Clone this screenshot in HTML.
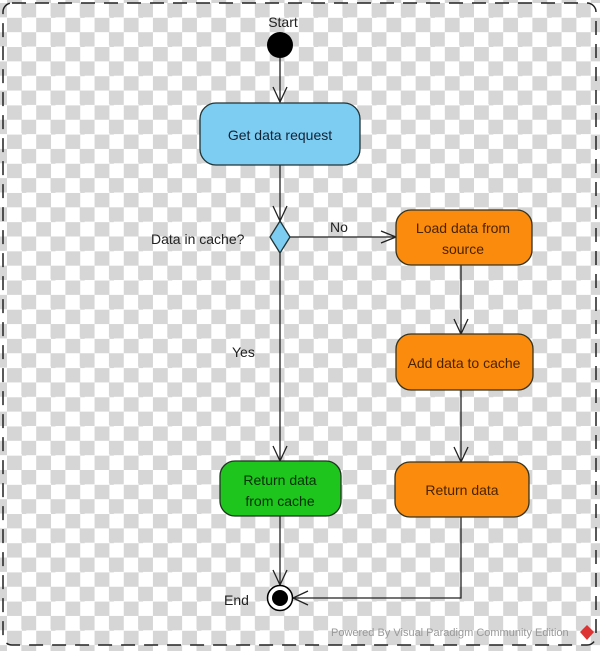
<!DOCTYPE html>
<html><head><style>
body{margin:0;width:600px;height:651px;overflow:hidden;background:#fff;}
.bg{position:absolute;left:0;top:0;width:600px;height:651px;
background:repeating-conic-gradient(#d6d6d6 0 25%,#ffffff 0 50%) 7px 3px/29.2px 29.2px;}
svg{position:absolute;left:0;top:0;}
text{font-family:"Liberation Sans",Arial,sans-serif;font-size:14px;}
</style></head><body>
<div class="bg"></div>
<svg width="600" height="651">
<rect x="3" y="3" width="593" height="642" rx="9" fill="none" stroke="#222" stroke-width="1.5" stroke-dasharray="14,9"/>
<g stroke="#222" stroke-width="1.3" fill="none">
<line x1="280" y1="58" x2="280" y2="102"/><polyline points="273,87 280,102 287,87"/>
<line x1="280" y1="165" x2="280" y2="221"/><polyline points="273,206 280,221 287,206"/>
<line x1="290" y1="237" x2="396" y2="237"/><polyline points="381,231 396,237 381,243"/>
<line x1="280" y1="253" x2="280" y2="461"/><polyline points="273,446 280,461 287,446"/>
<line x1="461" y1="265" x2="461" y2="334"/><polyline points="454,319 461,334 468,319"/>
<line x1="461" y1="390" x2="461" y2="462"/><polyline points="454,447 461,462 468,447"/>
<line x1="280" y1="516" x2="280" y2="585"/><polyline points="273,570 280,585 287,570"/>
<polyline points="461,517 461,598 293,598"/><polyline points="308,591 293,598 308,605"/>
</g>
<circle cx="280" cy="45" r="13" fill="#000"/>
<circle cx="280" cy="598" r="12.5" fill="#fff" stroke="#000" stroke-width="1.5"/>
<circle cx="280" cy="598" r="8" fill="#000"/>
<rect x="200" y="103" width="160" height="62" rx="16" fill="#7dcdf3" stroke="#233" stroke-width="1.3"/>
<polygon points="280,221 290,237 280,253 270,237" fill="#7dcdf3" stroke="#233" stroke-width="1.3"/>
<rect x="396" y="210" width="136" height="55" rx="15" fill="#fb8b0c" stroke="#332" stroke-width="1.3"/>
<rect x="396" y="334" width="137" height="56" rx="15" fill="#fb8b0c" stroke="#332" stroke-width="1.3"/>
<rect x="395" y="462" width="134" height="55" rx="15" fill="#fb8b0c" stroke="#332" stroke-width="1.3"/>
<rect x="220" y="461" width="121" height="55" rx="15" fill="#1dc51d" stroke="#232" stroke-width="1.3"/>
<g fill="#222">
<text x="283" y="27" text-anchor="middle">Start</text>
<text x="280" y="140" text-anchor="middle" fill="#123">Get data request</text>
<text x="151" y="244">Data in cache?</text>
<text x="330" y="232">No</text>
<text x="232" y="357">Yes</text>
<text x="224" y="605">End</text>
</g>
<g fill="#4a2300" text-anchor="middle">
<text x="463" y="233">Load data from</text>
<text x="463" y="254">source</text>
<text x="464" y="368">Add data to cache</text>
<text x="462" y="495">Return data</text>
</g>
<g fill="#083008" text-anchor="middle">
<text x="280" y="485">Return data</text>
<text x="280" y="506">from cache</text>
</g>
<text x="331" y="636" fill="#999" style="font-size:11px">Powered By  Visual Paradigm Community Edition</text>
<polygon points="587,625 594,632 587,640 580,632" fill="#d33"/>
</svg>
</body></html>
